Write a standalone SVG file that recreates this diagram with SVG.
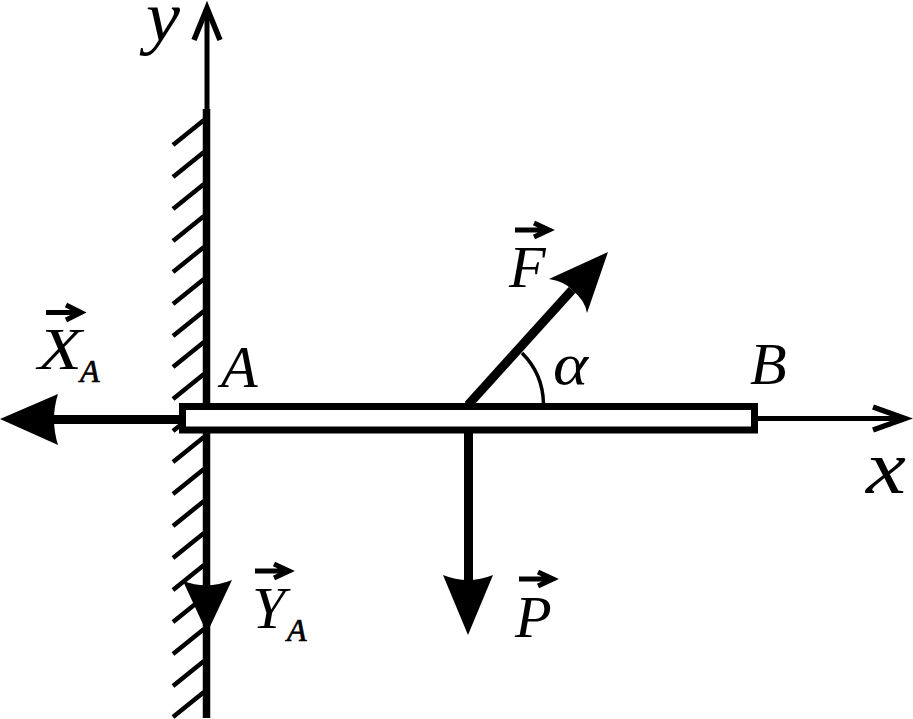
<svg xmlns="http://www.w3.org/2000/svg" width="913" height="719" viewBox="0 0 913 719">
<style>
text{font-family:"Liberation Serif","Times New Roman",serif;font-style:italic;fill:#000}
.l{font-size:60px}
.s{font-size:32px;stroke:#000;stroke-width:.7}
.v{fill:none;stroke:#000;stroke-width:5}
.h{fill:none;stroke:#000;stroke-width:4.500}
.f{fill:#000;stroke:none}
.ax{fill:none;stroke:#000;stroke-width:5}
.oh{fill:none;stroke:#000;stroke-width:5.500;stroke-linejoin:miter}
</style>
<rect width="913" height="719" fill="#fff"/>
<g id="wall">
<path d="M206.500 109V718" fill="none" stroke="#000" stroke-width="7.500"/>
<path class="h" d="M173 145L204 120M173 177L204 152M173 209L204 184M173 241L204 216M173 272L204 247M173 304L204 279M173 336L204 311M173 367L204 342M173 399L204 374M173 431L204 406M173 462L204 437M173 494L204 469M173 526L204 501M173 558L204 533M173 590L204 565M173 622L204 597M173 654L204 629M173 686L204 661M173 717L204 692"/>
</g>
<g id="axes">
<path class="ax" d="M207 109V10"/>
<path class="oh" d="M194 40L207 8L220 40"/>
<path class="ax" d="M757 418.500H900"/>
<path class="oh" d="M873 407L905 418.500L873 430"/>
</g>
<g id="forces">
<path d="M180 419.500H50" fill="none" stroke="#000" stroke-width="9"/>
<path class="f" d="M0 419L58 394Q50 419 58 445Z"/>
<path d="M206.500 600V632" fill="none" stroke="#000" stroke-width="7"/>
<path class="f" d="M183 581Q207 590 232 580L207 633Z"/>
<path d="M468 405L572 290" fill="none" stroke="#000" stroke-width="9"/>
<path class="f" d="M608 252L549 279Q566 282 572 290Q585 300 587 313Z"/>
<path d="M468.500 426V580" fill="none" stroke="#000" stroke-width="9"/>
<path class="f" d="M443 575Q468 585 493 575L468 635Z"/>
<path d="M522 353Q543 374 543.500 404" fill="none" stroke="#000" stroke-width="3.500"/>
</g>
<g id="bar">
<rect x="182.500" y="406.500" width="572" height="23.500" fill="#fff" stroke="#000" stroke-width="7"/>
</g>
<g id="labels">
<text x="146" y="41" style="font-size:72px" textLength="34" lengthAdjust="spacingAndGlyphs">y</text>
<text x="866" y="493" style="font-size:76px" textLength="40" lengthAdjust="spacingAndGlyphs">x</text>
<text x="221" y="387" class="l">A</text>
<text x="750" y="384" class="l">B</text>
<text x="553" y="384" class="l" textLength="35" lengthAdjust="spacingAndGlyphs">α</text>
<text x="38" y="369" class="l" textLength="44" lengthAdjust="spacingAndGlyphs">X</text>
<text x="80" y="382" class="s">A</text>
<text x="252" y="628" class="l">Y</text>
<text x="287" y="641" class="s">A</text>
<text x="509" y="287" class="l">F</text>
<text x="515" y="637" class="l">P</text>
</g>
<g id="vector-arrows">
<path class="v" d="M46 312.500H78M66 305L81 312.500L66 320"/>
<path class="v" d="M515 230H547M534 223L549 230L534 237"/>
<path class="v" d="M519 579H551M538 572L553 579L538 586"/>
<path class="v" d="M255 571H287M274 564L289 571L274 578"/>
</g>
</svg>
